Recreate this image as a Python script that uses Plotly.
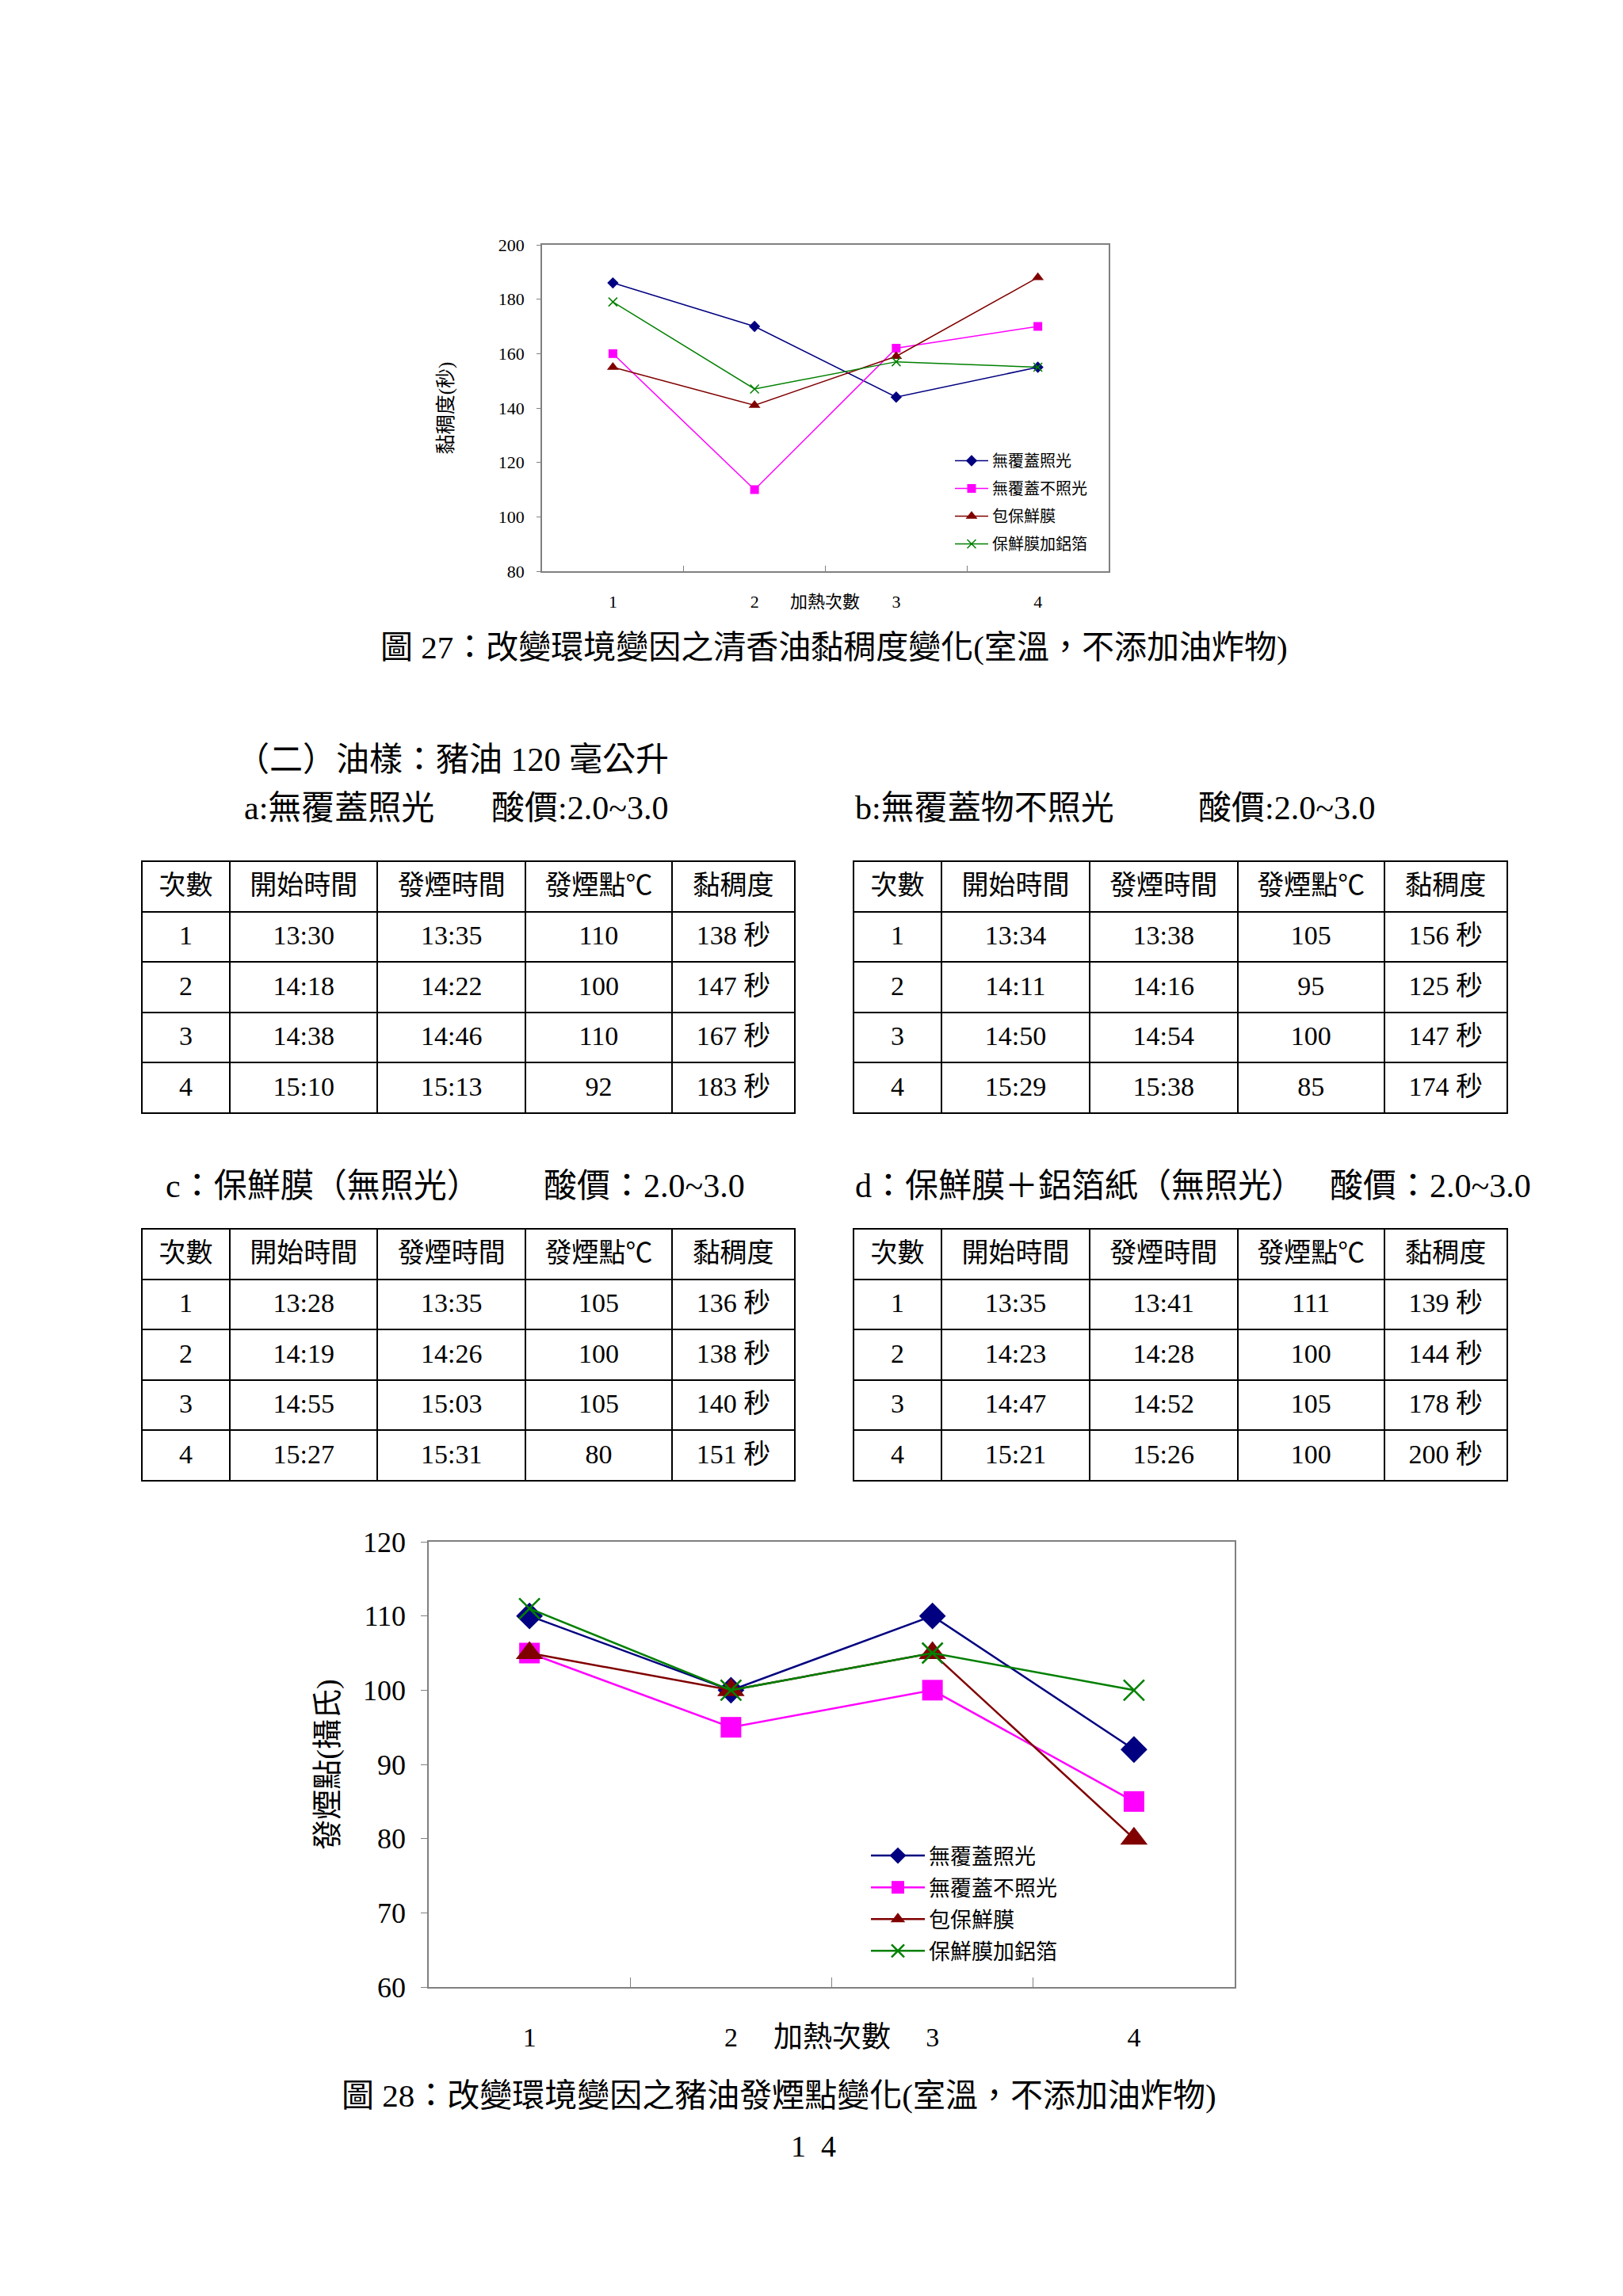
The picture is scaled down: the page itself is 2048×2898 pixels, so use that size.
import plotly.graph_objects as go

W, H = 2048, 2898
FONT = "Liberation Serif, Noto Sans CJK TC, serif"

# ---------------- data ----------------
runs = [1, 2, 3, 4]
x_labels = ["1", "2", "3", "4"]
series_names = ["無覆蓋照光", "無覆蓋不照光", "包保鮮膜", "保鮮膜加鋁箔"]
series_colors = ["#000080", "#FF00FF", "#800000", "#008000"]
series_symbols = ["diamond", "square", "triangle-up", "x-thin"]

# Fig 27: viscosity (s) of 清香油
visc27_a = [186, 170, 144, 155]
visc27_b = [160, 110, 162, 170]
visc27_c = [155, 141, 159, 188]
visc27_d = [179, 147, 157, 155]

# Tables (豬油)
col_headers = ["次數", "開始時間", "發煙時間", "發煙點℃", "黏稠度"]
start_a = ["13:30", "14:18", "14:38", "15:10"]
smoke_a = ["13:35", "14:22", "14:46", "15:13"]
sp_a = [110, 100, 110, 92]
visc_a = [138, 147, 167, 183]

start_b = ["13:34", "14:11", "14:50", "15:29"]
smoke_b = ["13:38", "14:16", "14:54", "15:38"]
sp_b = [105, 95, 100, 85]
visc_b = [156, 125, 147, 174]

start_c = ["13:28", "14:19", "14:55", "15:27"]
smoke_c = ["13:35", "14:26", "15:03", "15:31"]
sp_c = [105, 100, 105, 80]
visc_c = [136, 138, 140, 151]

start_d = ["13:35", "14:23", "14:47", "15:21"]
smoke_d = ["13:41", "14:28", "14:52", "15:26"]
sp_d = [111, 100, 105, 100]
visc_d = [139, 144, 178, 200]

OFF = 8  # page body margin


def fx(px):
    return (px - OFF) / W


def fy(py):
    return 1 - (py - OFF) / H


fig = go.Figure()

# ---------------- chart 1 (Fig 27) ----------------
sizes1 = [11, 11, 13, 11]
for name, vals, col, sym, sz in zip(series_names, [visc27_a, visc27_b, visc27_c, visc27_d],
                                    series_colors, series_symbols, sizes1):
    mk = dict(symbol=sym, size=sz, color=col)
    if sym == "x-thin":
        mk["line"] = dict(width=1.5, color=col)
    fig.add_trace(go.Scatter(x=x_labels, y=vals, name=name, mode="lines+markers",
                             line=dict(color=col, width=1.5), marker=mk,
                             xaxis="x", yaxis="y", legend="legend", legendgroup="a" + name))

# ---------------- chart 2 (Fig 28) ----------------
sizes2 = [26, 26, 30, 26]
for name, vals, col, sym, sz in zip(series_names, [sp_a, sp_b, sp_c, sp_d],
                                    series_colors, series_symbols, sizes2):
    mk = dict(symbol=sym, size=sz, color=col)
    if sym == "x-thin":
        mk["line"] = dict(width=2.5, color=col)
    fig.add_trace(go.Scatter(x=x_labels, y=vals, name=name, mode="lines+markers",
                             line=dict(color=col, width=2.5), marker=mk,
                             xaxis="x2", yaxis="y2", legend="legend2", legendgroup="b" + name))

# ---------------- tables ----------------
ROW_H = 63.5
COL_W = [60, 101, 101, 100, 84]


def add_table(x0, x1, y0, y1, start, smoke, sp, visc):
    cell_font = dict(family=FONT, size=34, color="black")
    blank = ["" for _ in runs]
    # grid layer (borders only)
    fig.add_trace(go.Table(
        domain=dict(x=[fx(x0), fx(x1)], y=[fy(y1 + 30), fy(y0)]),
        columnwidth=COL_W,
        header=dict(values=["" for _ in col_headers], fill_color="white",
                    line=dict(color="black", width=2), font=cell_font, height=ROW_H),
        cells=dict(values=[blank] * 5, fill_color="white",
                   line=dict(color="black", width=2), font=cell_font, height=ROW_H),
    ))
    # text layer, nudged down to sit centred in the rows
    fig.add_trace(go.Table(
        domain=dict(x=[fx(x0), fx(x1)], y=[fy(y1 + 30), fy(y0 + 8)]),
        columnwidth=COL_W,
        header=dict(values=col_headers, fill_color="rgba(0,0,0,0)",
                    line=dict(color="rgba(0,0,0,0)", width=0), align="center",
                    font=cell_font, height=ROW_H),
        cells=dict(values=[runs, start, smoke, sp, [f"{v} 秒" for v in visc]],
                   fill_color="rgba(0,0,0,0)", line=dict(color="rgba(0,0,0,0)", width=0),
                   align="center", font=cell_font, height=ROW_H),
    ))


add_table(179, 1003, 1087, 1404, start_a, smoke_a, sp_a, visc_a)
add_table(1077, 1902, 1087, 1404, start_b, smoke_b, sp_b, visc_b)
add_table(179, 1003, 1551, 1869, start_c, smoke_c, sp_c, visc_c)
add_table(1077, 1902, 1551, 1869, start_d, smoke_d, sp_d, visc_d)

GRAY = "#808080"
common_x = dict(type="category", range=[-0.5, 3.5], tickson="boundaries", ticks="inside",
                tickcolor=GRAY, showline=True, linecolor=GRAY, linewidth=1.5, mirror=True,
                showgrid=False, zeroline=False, automargin=False)
common_y = dict(ticks="outside", tickcolor=GRAY, showline=True, linecolor=GRAY, linewidth=1.5,
                mirror=True, showgrid=False, zeroline=False, automargin=False)

fig.update_layout(
    width=W, height=H, margin=dict(l=0, r=0, t=0, b=0, pad=0, autoexpand=False),
    paper_bgcolor="white", plot_bgcolor="white",
    font=dict(family=FONT, color="black"),
    xaxis=dict(common_x, domain=[fx(684), fx(1399)], anchor="y", ticklen=7,
               tickfont=dict(size=22), ticklabelstandoff=18),
    yaxis=dict(common_y, domain=[fy(721), fy(309)], anchor="x", range=[80, 200], dtick=20,
               ticklen=5, tickfont=dict(size=22), ticklabelstandoff=11,
               title=dict(text="黏稠度(秒)", font=dict(size=25), standoff=50)),
    xaxis2=dict(common_x, domain=[fx(541), fx(1558)], anchor="y2", ticklen=12,
                tickfont=dict(size=34), ticklabelstandoff=32),
    yaxis2=dict(common_y, domain=[fy(2508), fy(1946)], anchor="x2", range=[60, 120], dtick=10,
                ticklen=8, tickfont=dict(size=36), ticklabelstandoff=12,
                title=dict(text="發煙點(攝氏)", font=dict(size=38), standoff=20)),
    legend=dict(x=fx(1200), y=fy(562), xanchor="left", yanchor="top",
                bgcolor="rgba(0,0,0,0)", font=dict(size=20), itemwidth=42,
                tracegroupgap=6, itemclick=False),
    legend2=dict(x=fx(1094), y=fy(2318), xanchor="left", yanchor="top",
                 bgcolor="rgba(0,0,0,0)", font=dict(size=27), itemwidth=68,
                 tracegroupgap=2, itemclick=False),
    showlegend=True,
)

annos = [
    # chart axis titles
    dict(x=1041, y=760, text="加熱次數", size=22, xanchor="center"),
    dict(x=1050, y=2571, text="加熱次數", size=37, xanchor="center"),
    # captions
    dict(x=1052, y=817, text="圖 27：改變環境變因之清香油黏稠度變化(室溫，不添加油炸物)",
         size=41, xanchor="center"),
    dict(x=983, y=2645, text="圖 28：改變環境變因之豬油發煙點變化(室溫，不添加油炸物)",
         size=41, xanchor="center"),
    dict(x=1026, y=2709, text="1\u00a0\u00a04", size=38, xanchor="center"),
    # section headings
    dict(x=296, y=959, text="（二）油樣：豬油 120 毫公升", size=42, xanchor="left"),
    dict(x=306, y=1020, text="a:無覆蓋照光", size=42, xanchor="left"),
    dict(x=618, y=1020, text="酸價:2.0~3.0", size=42, xanchor="left"),
    dict(x=1077, y=1020, text="b:無覆蓋物不照光", size=42, xanchor="left"),
    dict(x=1510, y=1020, text="酸價:2.0~3.0", size=42, xanchor="left"),
    dict(x=207, y=1497, text="c：保鮮膜（無照光）", size=42, xanchor="left"),
    dict(x=684, y=1497, text="酸價：2.0~3.0", size=42, xanchor="left"),
    dict(x=1077, y=1497, text="d：保鮮膜＋鋁箔紙（無照光）", size=42, xanchor="left"),
    dict(x=1676, y=1497, text="酸價：2.0~3.0", size=42, xanchor="left"),
]
for a in annos:
    fig.add_annotation(x=fx(a["x"]), y=fy(a["y"]), xref="paper", yref="paper", text=a["text"],
                       showarrow=False, xanchor=a["xanchor"], yanchor="middle",
                       font=dict(family=FONT, size=a["size"], color="black"))

fig.write_html("out.html")
